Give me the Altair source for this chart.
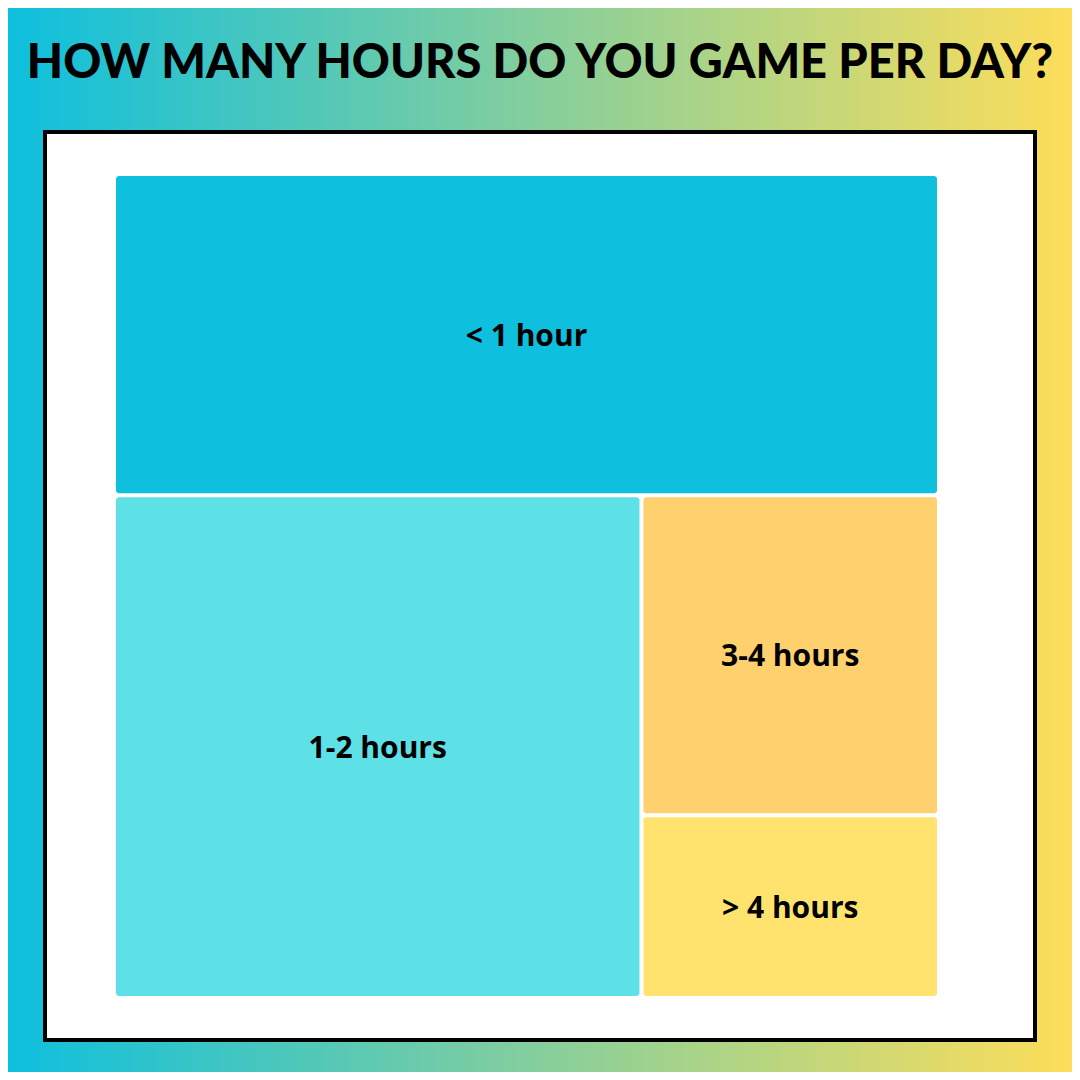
import altair as alt
import pandas as pd

title_text = ["HOW MANY HOURS DO YOU GAME PER DAY?"]
categories = ["< 1 hour", "1-2 hours", "3-4 hours", "> 4 hours"]
values = [39, 39, 14, 8]
colors = ["#0EC0DE", "#5DE1E6", "#FFD06E", "#FFE36E"]


def alternating_layout(vals, x0, y0, x1, y1, horizontal=True):
    """Recursive slice layout: each level peels off one item, alternating direction."""
    out = []
    total = float(sum(vals))
    if len(vals) == 1:
        return [(x0, y0, x1, y1)]
    frac = vals[0] / total
    if horizontal:
        ym = y0 + (y1 - y0) * frac
        out.append((x0, y0, x1, ym))
        out += alternating_layout(vals[1:], x0, ym, x1, y1, not horizontal)
    else:
        xm = x0 + (x1 - x0) * frac
        out.append((x0, y0, xm, y1))
        out += alternating_layout(vals[1:], xm, y0, x1, y1, not horizontal)
    return out


rects = alternating_layout(values, 0, 0, 100, 100, True)
df = pd.DataFrame({
    "category": categories,
    "value": values,
    "x0": [r[0] for r in rects],
    "y0": [r[1] for r in rects],
    "x1": [r[2] for r in rects],
    "y1": [r[3] for r in rects],
})
df["xc"] = (df["x0"] + df["x1"]) / 2
df["yc"] = (df["y0"] + df["y1"]) / 2

W, H = 1064, 1064
xs = alt.Scale(domain=[0, 100], range=[106, 931])
ys = alt.Scale(domain=[0, 100], range=[166, 990])

bg = alt.Chart(pd.DataFrame({"a": [0]})).mark_rect(
    fill=alt.Gradient(
        gradient="linear",
        stops=[alt.GradientStop(color="#0CBFDF", offset=0),
               alt.GradientStop(color="#FFDE59", offset=1)],
        x1=0, x2=1, y1=0, y2=0,
    )
).encode(x=alt.value(-8), x2=alt.value(W + 8), y=alt.value(-8), y2=alt.value(H + 8))

box = alt.Chart(pd.DataFrame({"a": [0]})).mark_rect(
    fill="white", stroke="black", strokeWidth=4
).encode(x=alt.value(37), x2=alt.value(1027), y=alt.value(124), y2=alt.value(1032))

title = alt.Chart(pd.DataFrame({"t": title_text})).mark_text(
    font="Lato", fontWeight=900, fontSize=47, color="black", align="center", baseline="alphabetic"
).encode(x=alt.value(532), y=alt.value(70), text="t:N")

cells = alt.Chart(df).mark_rect(
    cornerRadius=3, xOffset=2, x2Offset=-2, yOffset=2, y2Offset=-2
).encode(
    x=alt.X("x0:Q", scale=xs, axis=None),
    x2="x1:Q",
    y=alt.Y("y0:Q", scale=ys, axis=None),
    y2="y1:Q",
    color=alt.Color("category:N", scale=alt.Scale(domain=categories, range=colors), legend=None),
)

labels = alt.Chart(df).mark_text(
    font="Open Sans", fontWeight="bold", fontSize=30, color="black", align="center",
    baseline="middle", dy=2
).encode(
    x=alt.X("xc:Q", scale=xs, axis=None),
    y=alt.Y("yc:Q", scale=ys, axis=None),
    text="category:N",
)

chart = alt.layer(bg, box, title, cells, labels).properties(
    width=W, height=H, padding=0, autosize="none"
).configure_view(stroke=None)

chart.save("out.html", embed_options={"renderer": "svg", "actions": False})
